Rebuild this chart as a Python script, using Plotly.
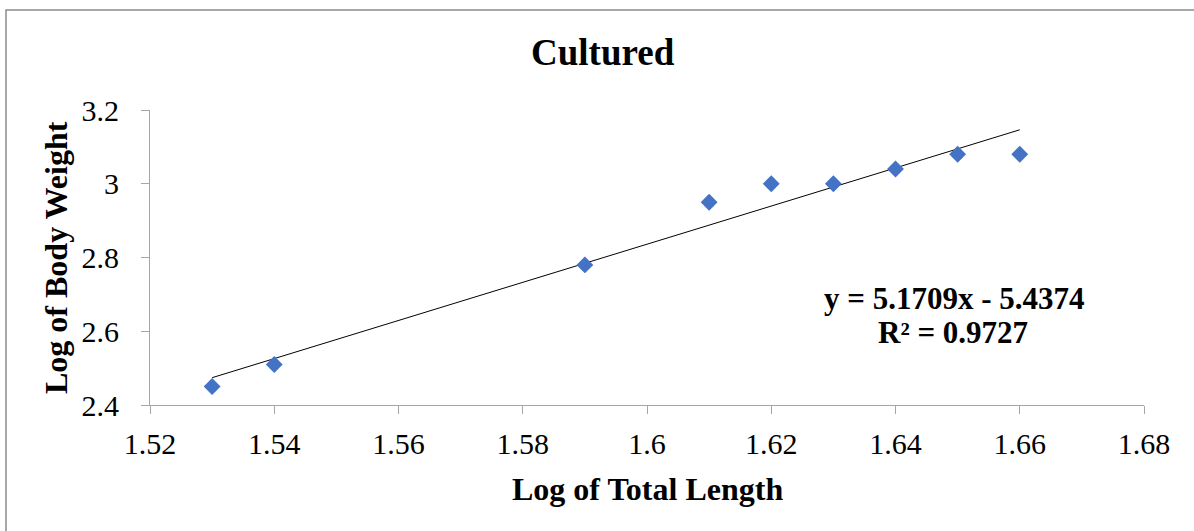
import plotly.graph_objects as go

x_vals = [1.53, 1.54, 1.59, 1.61, 1.62, 1.63, 1.64, 1.65, 1.66]
y_vals = [2.45, 2.51, 2.78, 2.95, 3.00, 3.00, 3.04, 3.08, 3.08]
slope = 5.1709
intercept = -5.4374
x_ticks = [1.52, 1.54, 1.56, 1.58, 1.6, 1.62, 1.64, 1.66, 1.68]
x_tick_text = ["1.52", "1.54", "1.56", "1.58", "1.6", "1.62", "1.64", "1.66", "1.68"]
y_ticks = [2.4, 2.6, 2.8, 3.0, 3.2]
y_tick_text = ["2.4", "2.6", "2.8", "3", "3.2"]

FONT = "Liberation Serif, Times New Roman, serif"

W, H = 1194, 531
L, R, T, B = 150, 50, 110, 126
pw, ph = W - L - R, H - T - B

def px(xp):
    return (xp - L) / pw

def py(yp):
    return (H - B - yp) / ph

trend_x = [min(x_vals), max(x_vals)]
trend_y = [slope * v + intercept for v in trend_x]

fig = go.Figure()
fig.add_trace(go.Scatter(x=trend_x, y=trend_y, mode="lines",
                         line=dict(color="black", width=1), showlegend=False, hoverinfo="skip"))
fig.add_trace(go.Scatter(x=x_vals, y=y_vals, mode="markers",
                         marker=dict(symbol="diamond", size=13, color="#4472C4",
                                     line=dict(width=0)), showlegend=False))

axis_common = dict(showgrid=False, zeroline=False, showline=True, linecolor="#a6a6a6", linewidth=1,
                   ticks="outside", ticklen=8, tickcolor="#a6a6a6", tickwidth=1,
                   tickfont=dict(family=FONT, size=30, color="black"))

fig.update_layout(
    width=W, height=H,
    margin=dict(l=L, r=R, t=T, b=B),
    paper_bgcolor="white", plot_bgcolor="white",
    font=dict(family=FONT, size=30, color="black"),
    xaxis=dict(range=[1.52, 1.68], tickvals=x_ticks, ticktext=x_tick_text,
               ticklabelstandoff=4, **axis_common),
    yaxis=dict(range=[2.4, 3.2], tickvals=y_ticks, ticktext=y_tick_text,
               ticklabelstandoff=16, **axis_common),
    shapes=[dict(type="rect", xref="paper", yref="paper",
                 x0=px(6), x1=px(1200), y0=py(10), y1=py(540),
                 line=dict(color="#8c8c8c", width=1.5), layer="below")],
    annotations=[
        dict(text="<b>Cultured</b>", xref="paper", yref="paper", x=px(603), y=py(53),
             showarrow=False, font=dict(family=FONT, size=37), xanchor="center", yanchor="middle"),
        dict(text="<b>Log of Total Length</b>", xref="paper", yref="paper", x=px(647), y=py(489),
             showarrow=False, font=dict(family=FONT, size=32), xanchor="center", yanchor="middle"),
        dict(text="<b>Log of Body Weight</b>", xref="paper", yref="paper", x=px(56), y=py(258),
             showarrow=False, textangle=-90, font=dict(family=FONT, size=32),
             xanchor="center", yanchor="middle"),
        dict(text="<b>y = 5.1709x - 5.4374</b>", xref="paper", yref="paper", x=px(954), y=py(298),
             showarrow=False, font=dict(family=FONT, size=31), xanchor="center", yanchor="middle"),
        dict(text="<b>R² = 0.9727</b>", xref="paper", yref="paper", x=px(953), y=py(332),
             showarrow=False, font=dict(family=FONT, size=31), xanchor="center", yanchor="middle"),
    ],
)

fig.write_html("out.html", config={"displayModeBar": False},
               post_script="document.body.style.margin='0';document.body.style.overflow='hidden';")
